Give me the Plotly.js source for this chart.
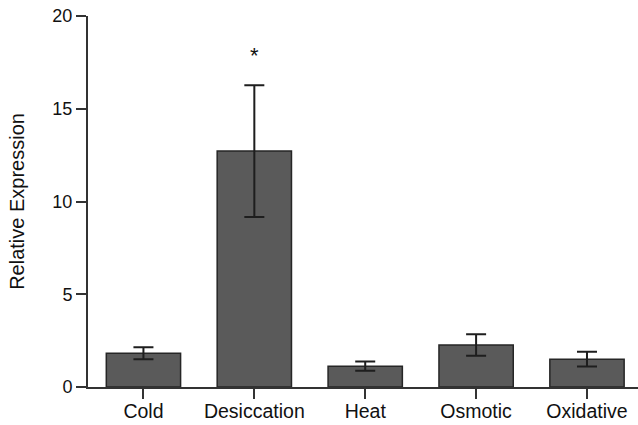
<!DOCTYPE html>
<html>
<head>
<meta charset="utf-8">
<script src="https://cdn.plot.ly/plotly-3.0.1.min.js"></script>
<style>html,body{margin:0;padding:0;background:#fff;}#chart{width:638px;height:425px;}</style>
</head>
<body>
<div id="chart"></div>
<script>
const categories = ["Cold", "Desiccation", "Heat", "Osmotic", "Oxidative"];
const meanValues = [1.82, 12.72, 1.12, 2.27, 1.50];
const errorValues = [0.32, 3.55, 0.25, 0.58, 0.40];
const yTickValues = [0, 5, 10, 15, 20];
const significance = [{category: "Desiccation", label: "*", y: 17.85}];

const trace = {
  type: "bar",
  x: categories,
  y: meanValues,
  width: 0.67,
  marker: {color: "#5a5a5a", line: {color: "#262626", width: 1.5}},
  error_y: {type: "data", array: errorValues, visible: true, color: "#1e1e1e", thickness: 2, width: 10},
  hoverinfo: "none"
};

const layout = {
  width: 638, height: 425,
  margin: {l: 88, r: 0, t: 16, b: 38, pad: 0},
  paper_bgcolor: "#fff", plot_bgcolor: "#fff",
  showlegend: false,
  font: {family: "Liberation Sans, Arial, sans-serif", color: "#111", size: 18},
  xaxis: {
    type: "category", range: [-0.5, 4.46],
    showline: true, linecolor: "#333", linewidth: 2,
    ticks: "outside", ticklen: 10, tickwidth: 2, tickcolor: "#333",
    ticklabelstandoff: -4,
    showgrid: false, zeroline: false, fixedrange: true,
    tickfont: {size: 19.5, color: "#111"}
  },
  yaxis: {
    range: [0, 20], tickvals: yTickValues, ticktext: yTickValues.map(String),
    showline: true, linecolor: "#333", linewidth: 2,
    ticks: "outside", ticklen: 10, tickwidth: 2, tickcolor: "#333",
    showgrid: false, zeroline: false, fixedrange: true,
    tickfont: {size: 18, color: "#111"},
    title: {text: "Relative Expression", font: {size: 20, color: "#111"}, standoff: 22}
  },
  annotations: significance.map(s => ({
    x: s.category, y: s.y, xref: "x", yref: "y", text: s.label, showarrow: false,
    font: {size: 22, color: "#111"}
  }))
};

Plotly.newPlot("chart", [trace], layout, {staticPlot: true, displayModeBar: false});
</script>
</body>
</html>
